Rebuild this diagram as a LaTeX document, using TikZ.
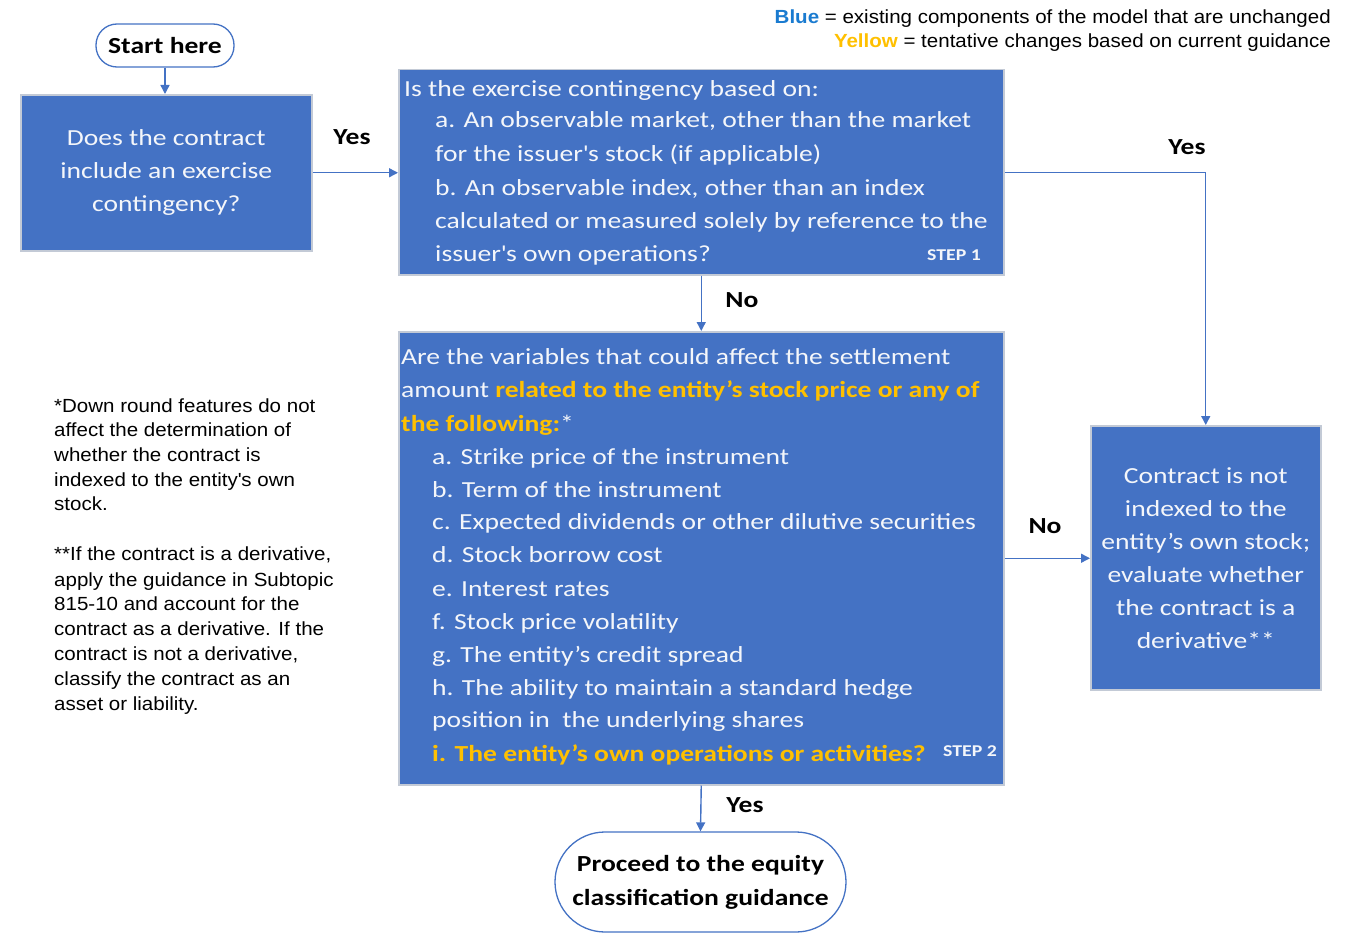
\documentclass[tikz,border=0pt]{standalone}
\usepackage{fontspec}
\setmainfont{Carlito}[FakeStretch=1.2]
\newfontfamily\arial{Liberation Sans}[FakeStretch=1.08]
\usetikzlibrary{arrows.meta}
\definecolor{boxblue}{HTML}{4472C4}
\definecolor{edgegray}{HTML}{C3CAD6}
\definecolor{yel}{HTML}{FFC000}
\definecolor{legblue}{HTML}{1A7BD0}
\definecolor{wtext}{HTML}{F4F6FA}
\begin{document}
\begin{tikzpicture}[x=1pt,y=-1pt,
  bluebox/.style={draw=edgegray,line width=1.5pt,fill=boxblue,anchor=north west,inner sep=0pt,
    text=wtext,align=center,font=\fontsize{23}{33}\selectfont},
  term/.style={draw=boxblue,line width=1.3pt,fill=white,inner sep=0pt,align=center},
  conn/.style={draw=boxblue,line width=1.4pt,-{Triangle[length=9pt,width=9pt]}},
  wl/.style={text=wtext,font=\fontsize{23}{28}\selectfont,inner sep=0pt,anchor=base west},
  steplbl/.style={text=wtext,font=\bfseries\fontsize{16.5}{18}\selectfont,inner sep=0pt,anchor=base east},
  lbl/.style={font=\bfseries\fontsize{23}{25}\selectfont,inner sep=0pt},
  note/.style={font=\arial\fontsize{19}{23}\selectfont,inner sep=0pt,anchor=base west},
  leg/.style={font=\arial\fontsize{19}{23}\selectfont,inner sep=0pt,anchor=base east}]
\useasboundingbox (0,0) rectangle (1355,934);
\clip (0,0) rectangle (1355,934);

% legend
\node[leg] (leg1) at (1331,24) {{\bfseries\color{legblue}Blue} = existing components of the model that are unchanged};
\node[leg] (leg2) at (1331,48) {{\bfseries\color{yel}Yellow} = tentative changes based on current guidance};

% start
\node[term, minimum width=138pt, minimum height=43pt, rounded corners=21pt,
  font=\bfseries\fontsize{23}{25}\selectfont] (start) at (165,45.5) {Start here};

% box 1
\node[bluebox, minimum width=291pt, minimum height=156pt] (b1) at (20,94)
  {Does the contract\\include an exercise\\contingency?};

% step 1
\node[bluebox, minimum width=605pt, minimum height=205pt] (s1) at (398,69) {};
\node[wl] (s1a) at (404,96) {Is the exercise contingency based on:};
\node[wl] (s1b) at (435,128) {a. An observable market, other than the market};
\node[wl] (s1c) at (435,161) {for the issuer\textquotesingle s stock (if applicable)};
\node[wl] (s1d) at (435,195) {b. An observable index, other than an index};
\node[wl] (s1e) at (435,228) {calculated or measured solely by reference to the};
\node[wl] (s1f) at (435,261) {issuer\textquotesingle s own operations?};
\node[steplbl] (st1) at (981,260) {STEP 1};

% step 2
\node[bluebox, minimum width=605pt, minimum height=453pt] (s2) at (398,331) {};
\node[wl] (s2a) at (401,364) {Are the variables that could affect the settlement};
\node[wl] (s2b) at (401,397) {amount {\bfseries\color{yel}related to the entity’s stock price or any of}};
\node[wl] (s2c) at (401,431) {{\bfseries\color{yel}the following:}*};
\node[wl] (s2d) at (432,464) {a. Strike price of the instrument};
\node[wl] (s2e) at (432,497) {b. Term of the instrument};
\node[wl] (s2f) at (432,529) {c. Expected dividends or other dilutive securities};
\node[wl] (s2g) at (432,562) {d. Stock borrow cost};
\node[wl] (s2h) at (432,596) {e. Interest rates};
\node[wl] (s2i) at (432,629) {f. Stock price volatility};
\node[wl] (s2j) at (432,662) {g. The entity’s credit spread};
\node[wl] (s2k) at (432,695) {h. The ability to maintain a standard hedge};
\node[wl] (s2l) at (432,727) {position in\ \ the underlying shares};
\node[wl] (s2m) at (432,761) {{\bfseries\color{yel}i. The entity’s own operations or activities?}};
\node[steplbl] (st2) at (997,756) {STEP 2};

% right box
\node[bluebox, minimum width=230pt, minimum height=264pt] (rb) at (1090,425)
  {Contract is not\\indexed to the\\entity’s own stock;\\evaluate whether\\the contract is a\\derivative**};

% end
\node[term, minimum width=291pt, minimum height=100pt, rounded corners=50pt,
  font=\bfseries\fontsize{23}{34}\selectfont] (en) at (700.5,882)
  {Proceed to the equity\\classification guidance};

% notes
\node[note] (n1) at (54,412) {*Down round features do not};
\node[note] (n2) at (54,436) {affect the determination of};
\node[note] (n3) at (54,461) {whether the contract is};
\node[note] (n4) at (54,486) {indexed to the entity\textquotesingle s own};
\node[note] (n5) at (54,510) {stock.};
\node[note] (n6) at (54,560) {**If the contract is a derivative,};
\node[note] (n7) at (54,586) {apply the guidance in Subtopic};
\node[note] (n8) at (54,610) {815-10 and account for the};
\node[note] (n9) at (54,635) {contract as a derivative. If the};
\node[note] (n10) at (54,660) {contract is not a derivative,};
\node[note] (n11) at (54,685) {classify the contract as an};
\node[note] (n12) at (54,710) {asset or liability.};

% connectors
\draw[conn] (start.south) -- (start.south |- b1.north);
\draw[conn] (b1.east) -- (b1.east -| s1.west);
\draw[conn] (s1.south) -- (s2.north);
\draw[conn] (s1.east) -| (rb.north);
\draw[conn] (s2.east) -- (s2.east -| rb.west);
\draw[conn] (s2.south) -- (en.north);

% labels
\node[lbl] (y1) at (352,137) {Yes};
\node[lbl] (n1l) at (742,300) {No};
\node[lbl] (y2) at (1187,147) {Yes};
\node[lbl] (n2l) at (1045,526) {No};
\node[lbl] (y3) at (745,805) {Yes};
\end{tikzpicture}
\end{document}
